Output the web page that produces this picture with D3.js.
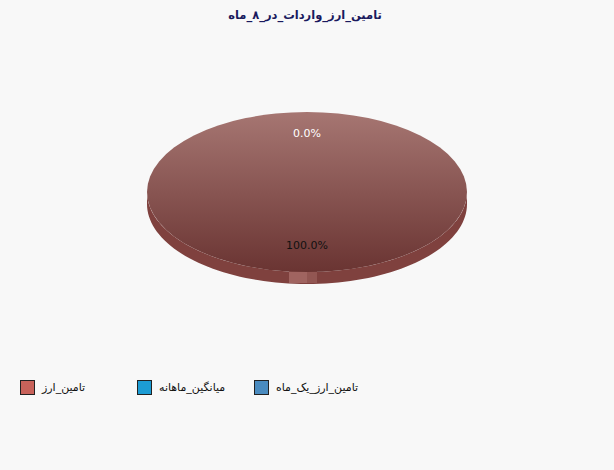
<!DOCTYPE html>
<html><head><meta charset="utf-8">
<script src="https://cdn.jsdelivr.net/npm/d3@7/dist/d3.min.js"></script>
<style>
html,body{margin:0;padding:0;background:#f8f8f8;}
svg{display:block;}
</style></head>
<body>
<script>
const title = "تامین_ارز_واردات_در_۸_ماه";
const categories = ["تامین_ارز", "میانگین_ماهانه", "تامین_ارز_یک_ماه"];
const values = [100, 0, 0];
const colors = ["#c8625a", "#1c9cd4", "#4a8bbf"];

const W = 614, H = 470;
const svg = d3.select("body").append("svg").attr("width", W).attr("height", H);
svg.append("rect").attr("width", W).attr("height", H).attr("fill", "#f8f8f8");

svg.append("text").attr("x", 305).attr("y", 19).attr("text-anchor", "middle")
  .attr("font-family", "DejaVu Sans, Tahoma, sans-serif").attr("font-size", 11.5).attr("font-weight", "bold")
  .attr("fill", "#1a1a5e").text(title);

const cx = 307, cy = 192, rx = 160, ry = 80, depth = 12;
const pie = d3.pie().sort(null).value(d => d)(values);
const total = d3.sum(values);

const defs = svg.append("defs");
const topGrad = defs.append("linearGradient").attr("id","topg").attr("x1",0).attr("y1",0).attr("x2",0).attr("y2",1);
topGrad.append("stop").attr("offset","0%").attr("stop-color","#a67672");
topGrad.append("stop").attr("offset","100%").attr("stop-color","#6a3432");

const pt = (a, dy=0) => [cx + rx*Math.sin(a), cy - ry*Math.cos(a) + dy];

// side walls (front half)
pie.forEach((s,i) => {
  if (s.endAngle - s.startAngle <= 0) return;
  const a0 = Math.max(s.startAngle, Math.PI/2), a1 = Math.min(s.endAngle, 3*Math.PI/2);
  if (a1 <= a0) return;
  const n = 80, top = [], bot = [];
  for (let k=0;k<=n;k++){ const a = a0 + (a1-a0)*k/n; top.push(pt(a)); bot.push(pt(a,depth)); }
  const poly = top.concat(bot.reverse());
  svg.append("path").attr("d", d3.line()(poly) + "Z").attr("fill", "#7f413e");
});
// cut face highlight at bottom
svg.append("rect").attr("x", pt(Math.PI)[0]-18).attr("y", pt(Math.PI)[1]-1).attr("width", 18).attr("height", depth)
  .attr("fill", "#a06460");
svg.append("rect").attr("x", pt(Math.PI)[0]).attr("y", pt(Math.PI)[1]-1).attr("width", 10).attr("height", depth)
  .attr("fill", "#925652");

// top faces
const arc = d3.arc().innerRadius(0).outerRadius(rx);
const g = svg.append("g").attr("transform", `translate(${cx},${cy}) scale(1,${ry/rx})`);
pie.forEach((s,i) => {
  if (s.endAngle - s.startAngle <= 0) return;
  g.append("path").attr("d", arc(s)).attr("fill", i===0 ? "url(#topg)" : colors[i]);
});

// labels
const seen = new Set();
pie.forEach((s,i) => {
  const mid = (s.startAngle + s.endAngle)/2;
  const r = s.value > 0 ? 0.66 : 0.74;
  const x = cx + rx*r*Math.sin(mid), y = cy - ry*r*Math.cos(mid);
  const key = Math.round(x)+","+Math.round(y);
  if (seen.has(key)) return; seen.add(key);
  svg.append("text").attr("x", x).attr("y", y).attr("dy","0.35em").attr("text-anchor","middle")
    .attr("font-family","DejaVu Sans, Tahoma, sans-serif").attr("font-size",11)
    .attr("fill", s.value > 0 ? "#111" : "#ffffff")
    .text((100*s.value/total).toFixed(1) + "%");
});

// legend
const lx = [20, 137, 254];
categories.forEach((c,i) => {
  svg.append("rect").attr("x", lx[i]+0.5).attr("y", 380.5).attr("width", 14).attr("height", 14)
    .attr("fill", colors[i]).attr("stroke", "#222").attr("stroke-width", 1);
  svg.append("text").attr("x", lx[i]+22).attr("y", 391).attr("text-anchor","start")
    .attr("font-family","DejaVu Sans, Tahoma, sans-serif").attr("font-size",11).attr("fill","#111")
    .text(c);
});
</script>
</body></html>
